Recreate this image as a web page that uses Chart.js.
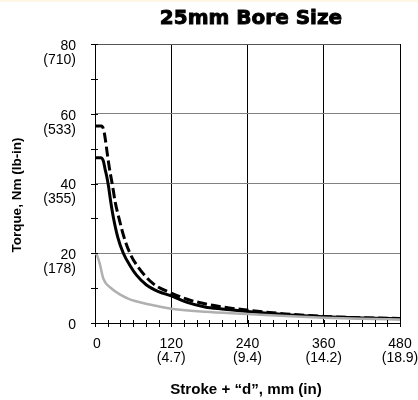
<!DOCTYPE html>
<html>
<head>
<meta charset="utf-8">
<script src="https://cdn.jsdelivr.net/npm/chart.js@4"></script>
<style>
html, body { margin: 0; padding: 0; background: #fff; }
body { border-top: 2px solid #fff6e6; }
#wrap { width: 418px; height: 398px; }
</style>
</head>
<body>
<div id="wrap"><canvas id="chart"></canvas></div>
<script>
// values (stroke + d in mm, torque in Nm)
const strokeSolid = [0, 9, 13, 16, 18.5, 21, 25, 29, 36, 44.6, 55, 65, 81, 100, 120, 145, 173, 200, 240, 300, 360, 420, 480];
const torqueSolid = [47.4, 47.4, 46.5, 44, 42, 39.5, 34.5, 30.2, 24.5, 20, 16.5, 13.8, 10.9, 9.0, 7.8, 5.9, 4.6, 4.0, 3.3, 2.4, 1.8, 1.45, 1.2];

const strokeDashed = [0, 10, 13.5, 16, 19, 23, 27, 32, 37.8, 45, 55, 70, 92, 120, 145, 173, 200, 240, 300, 360, 420, 480];
const torqueDashed = [56.5, 56.5, 55.5, 53, 49, 44, 40, 34.5, 30, 25, 20, 15.5, 11.2, 8.6, 6.8, 5.5, 4.6, 3.7, 2.6, 1.9, 1.5, 1.3];

const strokeGray = [0, 3, 7.9, 13, 26, 42, 52, 63, 80, 105, 120, 173, 240, 300, 360, 420, 480];
const torqueGray = [20, 19.5, 16.7, 12.8, 9.9, 7.9, 7.0, 6.3, 5.5, 4.6, 4.1, 3.2, 2.6, 2.0, 1.5, 1.2, 1.0];

const xLabels = { 0: ['0'], 120: ['120', '(4.7)'], 240: ['240', '(9.4)'], 360: ['360', '(14.2)'], 480: ['480', '(18.9)'] };
const yLabels = { 0: ['0'], 20: ['20', '(178)'], 40: ['40', '(355)'], 60: ['60', '(533)'], 80: ['80', '(710)'] };

function pts(xs, ys) {
  return xs.map((x, i) => ({ x: x, y: ys[i] }));
}

// tick marks, tick labels and titles
const decor = {
  id: 'decor',
  afterDraw(chart) {
    const ctx = chart.ctx;
    const xs = chart.scales.x, ys = chart.scales.y;
    const a = chart.chartArea;
    ctx.save();
    ctx.strokeStyle = '#000';
    ctx.lineWidth = 1;
    ctx.beginPath();
    for (let v = 0; v <= 480; v += 20) {
      const px = Math.round(xs.getPixelForValue(v)) + 0.5;
      ctx.moveTo(px, a.bottom - 3);
      ctx.lineTo(px, a.bottom + 4);
    }
    for (let v = 0; v <= 80; v += 10) {
      const py = Math.round(ys.getPixelForValue(v)) + 0.5;
      ctx.moveTo(a.left - 4, py);
      ctx.lineTo(a.left + 3, py);
    }
    ctx.stroke();

    ctx.fillStyle = '#000';
    ctx.font = '14px "Liberation Sans", Arial, sans-serif';
    ctx.textAlign = 'right';
    ctx.textBaseline = 'middle';
    Object.keys(yLabels).forEach(k => {
      const py = ys.getPixelForValue(+k);
      yLabels[k].forEach((t, i) => ctx.fillText(t, a.left - 19, py + 2 + i * 14));
    });
    ctx.textAlign = 'center';
    Object.keys(xLabels).forEach(k => {
      const px = xs.getPixelForValue(+k);
      xLabels[k].forEach((t, i) => ctx.fillText(t, px + (k == 0 ? 2 : 0), a.bottom + 21 + i * 14));
    });

    ctx.font = 'bold 14px "Liberation Sans", Arial, sans-serif';
    ctx.save();
    ctx.translate(246, 388);
    ctx.scale(1.08, 1);
    ctx.fillText('Stroke + \u201cd\u201d, mm (in)', 0, 0);
    ctx.restore();
    ctx.save();
    ctx.translate(17, 193);
    ctx.rotate(-Math.PI / 2);
    ctx.font = 'bold 13.5px "Liberation Sans", Arial, sans-serif';
    ctx.fillText('Torque, Nm (lb-in)', 0, 0);
    ctx.restore();

    ctx.font = 'bold 20px "DejaVu Sans", sans-serif';
    ctx.lineWidth = 0.9;
    ctx.strokeText('25mm Bore Size', 251, 17);
    ctx.fillText('25mm Bore Size', 251, 17);
    ctx.restore();
  }
};

new Chart(document.getElementById('chart'), {
  type: 'line',
  data: {
    datasets: [
      { data: pts(strokeGray, torqueGray), borderColor: '#b0b0b0', borderWidth: 2.5 },
      { data: pts(strokeSolid, torqueSolid), borderColor: '#000', borderWidth: 3 },
      { data: pts(strokeDashed, torqueDashed), borderColor: '#000', borderWidth: 3, borderDash: [10, 4] }
    ]
  },
  options: {
    responsive: true,
    maintainAspectRatio: false,
    animation: false,
    events: [],
    layout: { padding: { left: 95, right: 18, top: 42, bottom: 77 } },
    elements: {
      point: { radius: 0 },
      line: { cubicInterpolationMode: 'monotone', fill: false }
    },
    plugins: { legend: { display: false }, title: { display: false }, tooltip: { enabled: false } },
    scales: {
      x: {
        type: 'linear', min: 0, max: 480,
        ticks: { stepSize: 120, display: false },
        grid: {
          drawTicks: false,
          color: c => (c.tick.value === 0 ? 'transparent' : '#000')
        },
        border: { color: '#000', width: 1 }
      },
      y: {
        min: 0, max: 80,
        ticks: { stepSize: 20, display: false },
        grid: {
          drawTicks: false,
          color: c => (c.tick.value === 0 ? 'transparent' : (c.tick.value === 80 ? '#555' : '#808080'))
        },
        border: { color: '#000', width: 1 }
      }
    }
  },
  plugins: [decor]
});
</script>
</body>
</html>
